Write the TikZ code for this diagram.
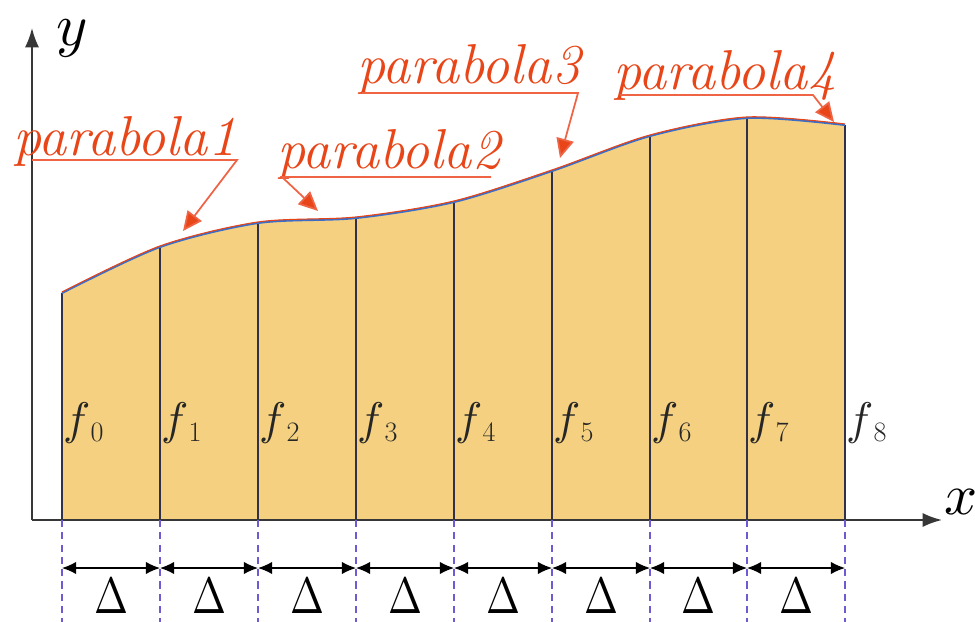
\documentclass[tikz,border=0pt]{standalone}
\usepackage{fontspec}
\usepackage{unicode-math}
\setmathfont{Latin Modern Math}
\usetikzlibrary{arrows.meta,calc}
\definecolor{lblc}{RGB}{232,70,24}
\definecolor{leadc}{RGB}{240,100,70}
\definecolor{fillc}{RGB}{244,208,128}
\definecolor{dashc}{RGB}{110,90,210}
\definecolor{axc}{RGB}{55,55,55}
\definecolor{curveb}{RGB}{60,110,200}
\tikzset{
  axis/.style={draw=axc,line width=1.1pt,-{Latex[length=11pt,width=8pt]}},
  vline/.style={draw=axc!90!blue,line width=0.9pt},
  dline/.style={draw=dashc,line width=0.9pt,dash pattern=on 4pt off 3pt},
  dimarrow/.style={draw=black,line width=0.7pt,{Latex[length=8pt,width=7pt]}-{Latex[length=8pt,width=7pt]}},
  lead/.style={draw=leadc,line width=1pt,-{Triangle[length=11pt,width=10pt,fill=lblc]}},
  lbl/.style={text=lblc,font=\itshape\fontsize{32}{32}\selectfont\addfontfeature{FakeBold=1.2},inner sep=0pt,anchor=base west},
  flbl/.style={inner sep=0pt,anchor=base west,text=black!85},
  dlt/.style={inner sep=0pt,anchor=base,font=\fontsize{29}{29}\selectfont},
}
\newcommand{\fsub}[1]{{\fontsize{26}{26}\selectfont$f$}\kern0.5pt\raisebox{-4.5pt}{\fontsize{16}{16}\selectfont #1}}
\begin{document}
\begin{tikzpicture}[x=0.02cm,y=-0.02cm]
\useasboundingbox (0,0) rectangle (975,622);
% curve points
\coordinate (t0) at (62,293);
\coordinate (t1) at (160,247);
\coordinate (t2) at (258,223);
\coordinate (t3) at (356,218);
\coordinate (t4) at (454,202);
\coordinate (t5) at (552,171);
\coordinate (t6) at (650,136);
\coordinate (t7) at (747,118);
\coordinate (t8) at (845,125);
\foreach \i/\x in {0/62,1/160,2/258,3/356,4/454,5/552,6/650,7/747,8/845}{
  \coordinate (b\i) at (\x,520);
  \coordinate (e\i) at (\x,622);
  \coordinate (d\i) at (\x,568);
}
% fill
\fill[fillc] (b0) -- (t0) -- plot[smooth] coordinates {(62,293)(160,247)(258,223)(356,218)(454,202)(552,171)(650,136)(747,118)(845,125)} -- (b8) -- cycle;
% vertical lines
\foreach \i in {0,...,8}{ \draw[vline] (b\i) -- (t\i); }
% curve
\draw[curveb,line width=1.2pt] plot[smooth] coordinates {(62,293)(160,247)(258,223)(356,218)(454,202)(552,171)(650,136)(747,118)(845,125)};
\draw[lblc,line width=0.6pt,yshift=0.6pt] plot[smooth] coordinates {(62,293)(160,247)(258,223)(356,218)(454,202)(552,171)(650,136)(747,118)(845,125)};
% axes
\coordinate (O) at (32,520);
\coordinate (yend) at (32,28);
\coordinate (xend) at (942,520);
\draw[axis] (O) -- (yend);
\draw[axis] (O) -- (xend);
\node[inner sep=0pt,anchor=base west,font=\fontsize{34}{34}\selectfont] (ylab) at (56,46) {$y$};
\node[inner sep=0pt,anchor=base west,font=\fontsize{33}{33}\selectfont] (xlab) at (944,514) {$x$};
% dashed extension lines
\foreach \i in {0,...,8}{ \draw[dline] (b\i) -- (e\i); }
% dimension arrows and deltas
\foreach \i/\j in {0/1,1/2,2/3,3/4,4/5,5/6,6/7,7/8}{
  \draw[dimarrow] (d\i) -- (d\j);
  \node[dlt] (D\i) at ($(d\i)!0.5!(d\j)+(0,45)$) {\scalebox{0.8}[1]{$\Delta$}};
}
% f labels
\foreach \i/\x in {0/62,1/160,2/258,3/356,4/454,5/552,6/650,7/747,8/845}{
  \node[flbl] (f\i) at (\x+1,434) {\fsub{\i}};
}
% parabola labels
\node[lbl] (P1) at (13,155) {parabola1};
\node[lbl] (P2) at (277,168) {parabola2};
\node[lbl] (P3) at (357,83) {parabola3};
\node[lbl] (P4) at (613,90) {parabola4};
\coordinate (u1s) at (32,160); \coordinate (u1e) at (237,160); \coordinate (a1) at (183,231);
\coordinate (u2s) at (491,177); \coordinate (u2e) at (282,177); \coordinate (a2) at (318,211);
\coordinate (u3s) at (362,93); \coordinate (u3e) at (578,93); \coordinate (a3) at (560,158);
\coordinate (u4s) at (620,95); \coordinate (u4e) at (813,95); \coordinate (a4) at (834,122);
\draw[lead] (u1s) -- (u1e) -- (a1);
\draw[lead] (u2s) -- (u2e) -- (a2);
\draw[lead] (u3s) -- (u3e) -- (a3);
\draw[lead] (u4s) -- (u4e) -- (a4);
\end{tikzpicture}
\end{document}
